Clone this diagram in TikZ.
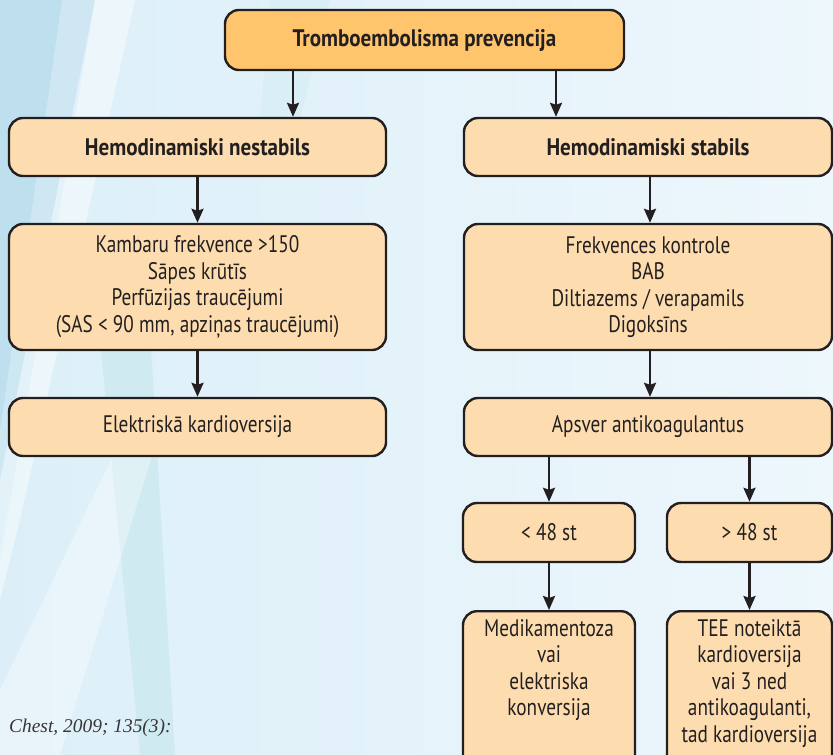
\documentclass[tikz,border=0pt]{standalone}
\usepackage{fontspec}
\setmainfont{PT Sans}[FakeStretch=0.805, BoldFeatures={FakeStretch=0.88}]
\newfontfamily\citefont{Liberation Serif}
\usetikzlibrary{arrows.meta}
\definecolor{ink}{HTML}{231F20}
\definecolor{topfill}{HTML}{FFC56C}
\definecolor{boxfill}{HTML}{FDDDAF}
\definecolor{bgL}{HTML}{DCEFF8}
\definecolor{bgR}{HTML}{EDF7FC}
\definecolor{streak}{HTML}{A3D2E7}
\definecolor{teal}{HTML}{CBE8F0}
\tikzset{
  box/.style={draw=ink, line width=2.4bp, rounded corners=14bp, fill=boxfill,
    text=ink, align=center, inner sep=0pt,
    font=\fontsize{24}{26.6}\selectfont},
  topbox/.style={box, fill=topfill, font=\fontsize{24}{26.6}\selectfont\bfseries},
  headbox/.style={box, font=\fontsize{24}{26.6}\selectfont\bfseries},
  lbl/.style={text=ink, align=center, inner sep=0pt, font=\fontsize{24}{26.6}\selectfont},
  arr/.style={draw=ink, line width=2.4bp, -{Stealth[length=14bp,width=12bp,inset=2bp]}}
}
\begin{document}
\begin{tikzpicture}[x=1bp,y=-1bp]
\useasboundingbox (0,0) rectangle (833,755);
\clip (0,0) rectangle (833,755);
% background
\shade[left color=bgL, right color=bgR] (0,0) rectangle (833,755);
\fill[streak, opacity=0.9] (0,0) -- (62,0) -- (0,430) -- cycle;
\fill[streak!60, opacity=0.7] (0,0) -- (95,0) -- (0,560) -- cycle;
\fill[white, opacity=0.45] (95,0) -- (135,0) -- (20,520) -- (0,600) -- (0,480) -- cycle;
\fill[teal, opacity=0.7] (100,340) -- (150,330) -- (175,755) -- (140,755) -- cycle;
\fill[white, opacity=0.35] (0,755) -- (0,690) -- (130,420) -- (160,430) -- (60,755) -- cycle;
\fill[teal, opacity=0.35] (270,0) -- (330,0) -- (300,120) -- (260,120) -- cycle;

% nodes
\node[topbox, minimum width=399bp, minimum height=60bp] (top) at (424.5,40) {Tromboembolisma prevencija};
\node[headbox, minimum width=377bp, minimum height=58bp] (n1) at (197.5,147) {Hemodinamiski nestabils};
\node[headbox, minimum width=368bp, minimum height=58bp] (s1) at (648,147) {Hemodinamiski stabils};
\node[box, minimum width=377bp, minimum height=126bp] (n2) at (197.5,287) {Kambaru frekvence >150\\Sāpes krūtīs\\Perfūzijas traucējumi\\(SAS < 90 mm, apziņas traucējumi)};
\node[box, minimum width=368bp, minimum height=126bp] (s2) at (648,287) {Frekvences kontrole\\BAB\\Diltiazems / verapamils\\Digoksīns};
\node[box, minimum width=377bp, minimum height=58bp] (n3) at (197.5,427) {Elektriskā kardioversija};
\node[box, minimum width=368bp, minimum height=58bp] (s3) at (648,427) {Apsver antikoagulantus};
\node[box, minimum width=172bp, minimum height=59bp] (l48) at (549,532.5) {< 48 st};
\node[box, minimum width=165bp, minimum height=59bp] (g48) at (749.5,532.5) {> 48 st};
\node[box, minimum width=172bp, minimum height=170bp, anchor=north] (lb) at (549,610) {};
\node[box, minimum width=165bp, minimum height=170bp, anchor=north] (gb) at (749.5,610) {};
\node[lbl, anchor=north] (lbt) at ([yshift=-9bp]lb.north) {Medikamentoza\\vai\\elektriska\\konversija};
\node[lbl, anchor=north] (gbt) at ([yshift=-9bp]gb.north) {TEE noteiktā\\kardioversija\\vai 3 ned\\antikoagulanti,\\tad kardioversija};
\node[anchor=base west, inner sep=0pt, text=ink!90, font=\fontsize{19.5}{21}\citefont\itshape] (cite) at (9,732) {Chest, 2009; 135(3):};

% connectors
\draw[arr] (top.south -| 293,0) -- (n1.north -| 293,0);
\draw[arr] (top.south -| 556,0) -- (s1.north -| 556,0);
\draw[arr] (n1) -- (n2);
\draw[arr] (n2) -- (n3);
\draw[arr] (s1.south -| 650,0) -- (s2.north -| 650,0);
\draw[arr] (s2.south -| 650,0) -- (s3.north -| 650,0);
\draw[arr] (s3.south -| l48.north) -- (l48.north);
\draw[arr] (s3.south -| g48.north) -- (g48.north);
\draw[arr] (l48) -- (lb);
\draw[arr] (g48) -- (gb);
\end{tikzpicture}
\end{document}
